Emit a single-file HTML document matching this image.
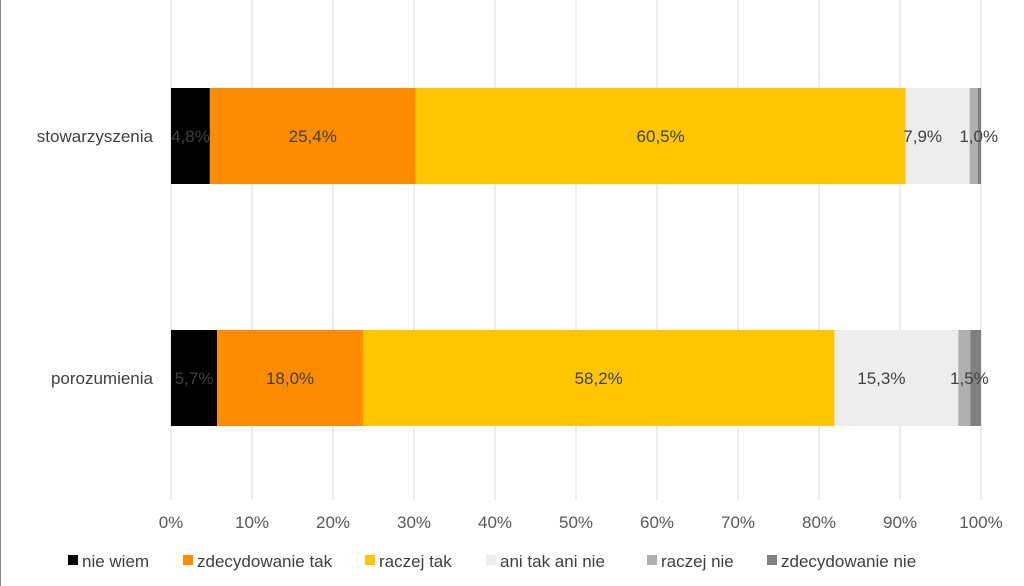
<!DOCTYPE html>
<html><head><meta charset="utf-8"><style>
body{margin:0;background:#fff;}
svg{display:block;font-family:"Liberation Sans",sans-serif;}
</style></head><body>
<svg id="c" width="1024" height="586" viewBox="0 0 1024 586">
<rect x="0.5" y="-1" width="1030" height="600" fill="#fff" stroke="#888"/>
<g id="grid"></g><g id="bars"></g><g id="labels"></g><g id="axis"></g><g id="legend"></g>
</svg>
<script>
const categories = ["stowarzyszenia", "porozumienia"];
const seriesNames = ["nie wiem", "zdecydowanie tak", "raczej tak", "ani tak ani nie", "raczej nie", "zdecydowanie nie"];
const sNieWiem = [4.8, 5.7];
const sZdecTak = [25.4, 18.0];
const sRaczejTak = [60.5, 58.2];
const sAni = [7.9, 15.3];
const sRaczejNie = [1.0, 1.5];
const sZdecNie = [0.4, 1.3];
const ticks = [0,10,20,30,40,50,60,70,80,90,100];
const series = [sNieWiem, sZdecTak, sRaczejTak, sAni, sRaczejNie, sZdecNie];
const colors = ["#000000","#ff8c00","#ffc600","#ededed","#b0b0b0","#808080"];
const labelColors = ["#404040","#404040","#404040","#404040","#404040",null];
const NS="http://www.w3.org/2000/svg";
const x0=171, x1=981;
const xs=v=>x0+(x1-x0)*v/100;
const bandTop=[88,330], barH=96;
function el(t,a,p){const e=document.createElementNS(NS,t);for(const k in a)e.setAttribute(k,a[k]);p.appendChild(e);return e;}
const G=id=>document.getElementById(id);
ticks.forEach(t=>{
  const l=el('line',{x1:xs(t),x2:xs(t),y1:0,y2:500,stroke:'#d9d9d9','stroke-width':1},G('grid'));
  
  
  const tx=el('text',{x:xs(t),y:528,'text-anchor':'middle','font-size':17,fill:'#595959'},G('axis'));
  tx.textContent=t+'%';
  
  
});
const fmt=v=>v.toFixed(1).replace('.',',')+'%';
categories.forEach((c,i)=>{
  let cum=0;
  series.forEach((s,j)=>{
    const v=s[i];
    const r=el('rect',{x:xs(cum),y:bandTop[i],width:xs(cum+v)-xs(cum),height:barH,fill:colors[j]},G('bars'));
    
    
    if(labelColors[j]){
      let cx=(xs(cum)+xs(cum+v))/2;
      if(j===3) cx-=15;
      if(j===4) cx+=5;
      const t=el('text',{x:cx,y:bandTop[i]+barH/2+6,'text-anchor':'middle','font-size':17,fill:'#404040'},G('labels'));
      t.textContent=fmt(v);
      
      
    }
    cum+=v;
  });
  const ct=el('text',{x:153,y:bandTop[i]+barH/2+6,'text-anchor':'end','font-size':17,fill:'#404040'},G('axis'));
  ct.textContent=c;
  
  
});
const legX=[68,183,365,486,647,767];
seriesNames.forEach((n,j)=>{
  const r=el('rect',{x:legX[j],y:555,width:10,height:10,fill:colors[j]},G('legend'));
  
  
  const t=el('text',{x:legX[j]+14,y:567,'font-size':17,fill:'#404040'},G('legend'));
  t.textContent=n;
  
  
});
</script>
</body></html>
